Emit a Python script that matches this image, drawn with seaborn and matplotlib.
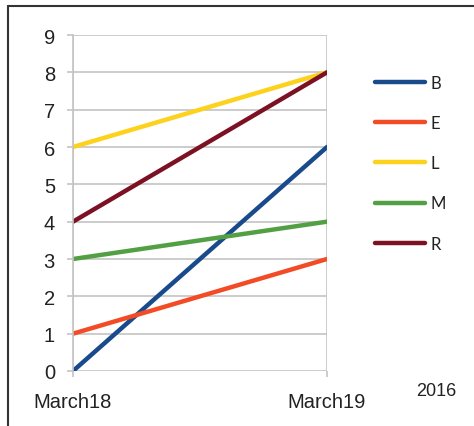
import matplotlib
matplotlib.use("Agg")
import matplotlib.pyplot as plt
from matplotlib.lines import Line2D
import seaborn as sns
import pandas as pd

# Chart data
periods = ["March18", "March19"]
series_names = ["B", "E", "L", "M", "R"]
b_values = [0, 6]
e_values = [1, 3]
l_values = [6, 8]
m_values = [3, 4]
r_values = [4, 8]
y_ticks = list(range(0, 10))
year_label = "2016"

colors = {
    "B": "#184a8c",
    "E": "#f24b25",
    "L": "#fdd21c",
    "M": "#52a043",
    "R": "#7c1124",
}

values = {"B": b_values, "E": e_values, "L": l_values, "M": m_values, "R": r_values}
rows = []
for name in series_names:
    for i, p in enumerate(periods):
        rows.append({"period": i, "label": p, "series": name, "value": values[name][i]})
df = pd.DataFrame(rows)

sns.set_theme(style="white")
plt.rcParams["font.family"] = ["Liberation Sans", "DejaVu Sans"]

fig = plt.figure(figsize=(4.74, 4.27), dpi=100)
ax = fig.add_axes([73 / 474, 1 - 372 / 427, (327 - 73) / 474, (372 - 36) / 427])

sns.lineplot(data=df, x="period", y="value", hue="series", hue_order=series_names,
             palette=colors, linewidth=3.2, ax=ax, legend=False,
             solid_capstyle="round")

ax.set_xlim(0, 1)
ax.set_ylim(0, 9)
ax.set_yticks(y_ticks)
ax.set_yticklabels([str(t) for t in y_ticks], fontsize=14.5, color="#222222")
ax.set_xticks([0, 1])
ax.set_xticklabels(periods, fontsize=14.5, color="#222222")
ax.set_xlabel("")
ax.set_ylabel("")

grid_color = "#c4c4c4"
ax.grid(axis="y", color=grid_color, linewidth=1.2)
ax.grid(axis="x", color=grid_color, linewidth=1.2)
ax.set_axisbelow(True)
for side in ["top", "right", "bottom"]:
    ax.spines[side].set_visible(False)
ax.spines["left"].set_color(grid_color)
ax.spines["left"].set_linewidth(1.2)
ax.tick_params(axis="y", length=4, width=1.2, color=grid_color, pad=9, left=True)
ax.tick_params(axis="x", length=4, width=1.2, color=grid_color, pad=11, bottom=True)

# Legend to the right of the plot
handles = [Line2D([], [], color=colors[n], linewidth=3.2, solid_capstyle="round")
           for n in series_names]
leg = fig.legend(handles, series_names, loc="upper left",
                 bbox_to_anchor=(360 / 474, 1 - 61 / 427), frameon=False,
                 handlelength=3.0, handletextpad=0.35, labelspacing=1.45,
                 prop={"family": ["Lato", "DejaVu Sans"], "size": 12})
for t in leg.get_texts():
    t.set_color("#222222")

fig.text(436 / 474, 1 - 392 / 427, year_label, fontsize=13, color="#222222",
         ha="center", va="center")

# Outer frame: left and top edges
fig.add_artist(Line2D([8 / 474, 8 / 474], [0, 1 - 7 / 427], transform=fig.transFigure,
                      color="#333333", linewidth=1.5))
fig.add_artist(Line2D([8 / 474, 1], [1 - 7 / 427, 1 - 7 / 427], transform=fig.transFigure,
                      color="#333333", linewidth=1.5))

fig.savefig("out.png", dpi=100, facecolor="white")
